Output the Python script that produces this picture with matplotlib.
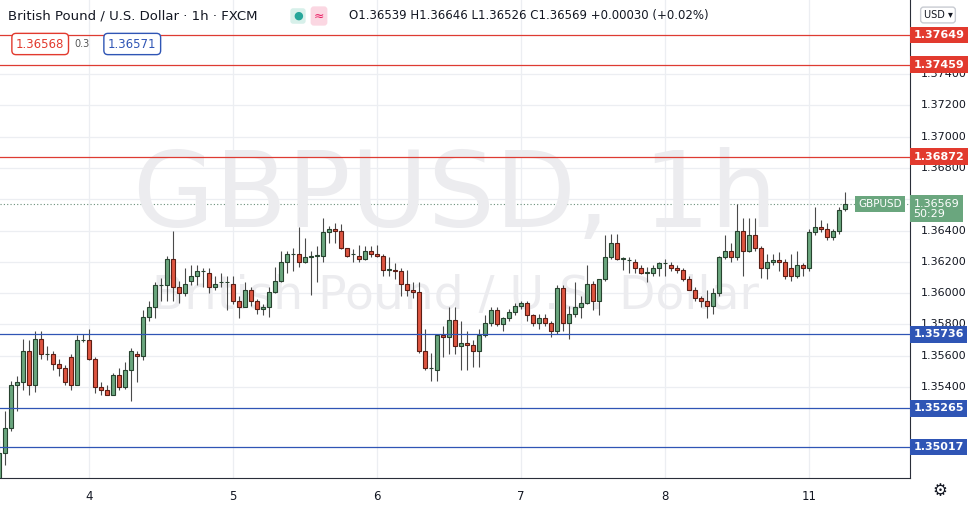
import matplotlib.pyplot as plt
from matplotlib.transforms import blended_transform_factory

opens = [1.3482, 1.3498, 1.3514, 1.3541, 1.3543, 1.3563, 1.3541, 1.3571, 1.3561, 1.3561,
         1.3555, 1.3552, 1.3559, 1.3541, 1.3570, 1.3570, 1.3558, 1.3540, 1.3538, 1.3535,
         1.3548, 1.3540, 1.3551, 1.3561, 1.3560, 1.3585, 1.3591, 1.3605, 1.3605, 1.3622,
         1.3604, 1.3600, 1.3608, 1.3611, 1.3614, 1.3613, 1.3604, 1.3607, 1.3607, 1.3606,
         1.3595, 1.3591, 1.3602, 1.3595, 1.3590, 1.3591, 1.3601, 1.3608, 1.3620, 1.3625,
         1.3625, 1.3620, 1.3623, 1.3624, 1.3624, 1.3639, 1.3641, 1.3640, 1.3629, 1.3625,
         1.3624, 1.3622, 1.3627, 1.3625, 1.3624, 1.3615, 1.3615, 1.3614, 1.3606, 1.3602,
         1.3601, 1.3563, 1.3552, 1.3551, 1.3573, 1.3572, 1.3583, 1.3566, 1.3568, 1.3567,
         1.3563, 1.3573, 1.3581, 1.3589, 1.3580, 1.3584, 1.3588, 1.3592, 1.3594, 1.3586,
         1.3581, 1.3584, 1.3581, 1.3576, 1.3603, 1.3581, 1.3587, 1.3591, 1.3594, 1.3606,
         1.3595, 1.3609, 1.3623, 1.3632, 1.3622, 1.3621, 1.3620, 1.3616, 1.3613, 1.3613,
         1.3616, 1.3619, 1.3618, 1.3616, 1.3615, 1.3609, 1.3602, 1.3597, 1.3595, 1.3592,
         1.3600, 1.3623, 1.3627, 1.3623, 1.3640, 1.3627, 1.3637, 1.3629, 1.3616, 1.3620,
         1.3621, 1.3620, 1.3616, 1.3611, 1.3618, 1.3616, 1.3639, 1.3642, 1.3641, 1.3636,
         1.3640, 1.36539]
closes = [1.3498, 1.3514, 1.3541, 1.3543, 1.3563, 1.3541, 1.3571, 1.3561, 1.3561, 1.3555,
          1.3552, 1.3543, 1.3541, 1.3570, 1.3570, 1.3558, 1.3540, 1.3538, 1.3535, 1.3548,
          1.3540, 1.3551, 1.3563, 1.3560, 1.3585, 1.3591, 1.3605, 1.3605, 1.3622, 1.3604,
          1.3600, 1.3606, 1.3611, 1.3614, 1.3614, 1.3604, 1.3606, 1.3607, 1.3607, 1.3595,
          1.3591, 1.3602, 1.3595, 1.3590, 1.3591, 1.3601, 1.3608, 1.3620, 1.3625, 1.3625,
          1.3620, 1.3623, 1.3624, 1.3624, 1.3639, 1.3641, 1.3640, 1.3629, 1.3624, 1.3625,
          1.3622, 1.3627, 1.3625, 1.3624, 1.3615, 1.3615, 1.3614, 1.3606, 1.3602, 1.3601,
          1.3563, 1.3552, 1.3552, 1.3573, 1.3572, 1.3583, 1.3566, 1.3568, 1.3567, 1.3563,
          1.3573, 1.3581, 1.3589, 1.3580, 1.3584, 1.3588, 1.3592, 1.3594, 1.3586, 1.3581,
          1.3584, 1.3581, 1.3576, 1.3603, 1.3581, 1.3587, 1.3591, 1.3594, 1.3606, 1.3595,
          1.3609, 1.3623, 1.3632, 1.3622, 1.3622, 1.3621, 1.3616, 1.3613, 1.3613, 1.3616,
          1.3619, 1.3619, 1.3616, 1.3615, 1.3609, 1.3602, 1.3597, 1.3595, 1.3592, 1.3600,
          1.3623, 1.3627, 1.3623, 1.3640, 1.3627, 1.3637, 1.3629, 1.3616, 1.3620, 1.3621,
          1.3620, 1.3611, 1.3611, 1.3618, 1.3616, 1.3639, 1.3642, 1.3641, 1.3636, 1.3640,
          1.3653, 1.36569]
highs = [1.3506, 1.3525, 1.3544, 1.3547, 1.3571, 1.3570, 1.3576, 1.3576, 1.3566, 1.3563,
         1.3558, 1.3554, 1.3561, 1.3573, 1.3574, 1.3577, 1.3559, 1.3543, 1.3541, 1.3549,
         1.3552, 1.3556, 1.3565, 1.3563, 1.3589, 1.3595, 1.3607, 1.3610, 1.3624, 1.3640,
         1.3608, 1.3616, 1.3618, 1.3618, 1.3616, 1.3616, 1.3611, 1.3613, 1.3611, 1.3611,
         1.3598, 1.3607, 1.3604, 1.3596, 1.3593, 1.3604, 1.3617, 1.3627, 1.3627, 1.3629,
         1.3642, 1.3635, 1.3627, 1.3630, 1.3648, 1.3643, 1.3645, 1.3644, 1.3629, 1.3628,
         1.3631, 1.3630, 1.3630, 1.3631, 1.3625, 1.3623, 1.3619, 1.3616, 1.3615, 1.3607,
         1.3607, 1.3577, 1.3562, 1.3574, 1.3579, 1.3591, 1.3591, 1.3582, 1.3576, 1.3570,
         1.3577, 1.3586, 1.3591, 1.3591, 1.3585, 1.3590, 1.3594, 1.3595, 1.3595, 1.3587,
         1.3587, 1.3587, 1.3582, 1.3605, 1.3605, 1.3592, 1.3607, 1.3598, 1.3618, 1.3608,
         1.3609, 1.3637, 1.3638, 1.3638, 1.3623, 1.3623, 1.3622, 1.3618, 1.3617, 1.3618,
         1.3620, 1.3622, 1.3620, 1.3618, 1.3616, 1.3611, 1.3604, 1.3598, 1.3602, 1.3603,
         1.3624, 1.3637, 1.3632, 1.3657, 1.3648, 1.3648, 1.3648, 1.3630, 1.3625, 1.3625,
         1.3626, 1.3622, 1.3625, 1.3627, 1.3619, 1.3641, 1.3655, 1.3647, 1.3645, 1.3641,
         1.3655, 1.36646]
lows = [1.3480, 1.3490, 1.3512, 1.3525, 1.3538, 1.3535, 1.3537, 1.3558, 1.3557, 1.3551,
        1.3547, 1.3541, 1.3538, 1.3541, 1.3569, 1.3557, 1.3536, 1.3535, 1.3535, 1.3535,
        1.3538, 1.3539, 1.3531, 1.3543, 1.3557, 1.3582, 1.3584, 1.3595, 1.3595, 1.3595,
        1.3594, 1.3598, 1.3605, 1.3605, 1.3604, 1.3600, 1.3602, 1.3604, 1.3589, 1.3593,
        1.3584, 1.3591, 1.3592, 1.3587, 1.3586, 1.3585, 1.3600, 1.3607, 1.3613, 1.3614,
        1.3617, 1.3619, 1.3599, 1.3607, 1.3620, 1.3632, 1.3632, 1.3628, 1.3623, 1.3620,
        1.3620, 1.3621, 1.3623, 1.3623, 1.3611, 1.3611, 1.3609, 1.3598, 1.3598, 1.3597,
        1.3562, 1.3551, 1.3544, 1.3544, 1.3559, 1.3561, 1.3561, 1.3551, 1.3551, 1.3553,
        1.3553, 1.3572, 1.3579, 1.3579, 1.3576, 1.3582, 1.3586, 1.3590, 1.3582, 1.3579,
        1.3577, 1.3579, 1.3572, 1.3574, 1.3576, 1.3571, 1.3585, 1.3584, 1.3593, 1.3589,
        1.3586, 1.3608, 1.3622, 1.3621, 1.3615, 1.3613, 1.3613, 1.3612, 1.3607, 1.3611,
        1.3611, 1.3611, 1.3614, 1.3613, 1.3608, 1.3602, 1.3595, 1.3591, 1.3584, 1.3587,
        1.3598, 1.3622, 1.3620, 1.3621, 1.3611, 1.3626, 1.3627, 1.3610, 1.3609, 1.3618,
        1.3614, 1.3609, 1.3608, 1.3610, 1.3611, 1.3614, 1.3637, 1.3639, 1.3634, 1.3634,
        1.3638, 1.36526]

day_labels = ['4', '5', '6', '7', '8', '11']
day_index = [15, 39, 63, 87, 111, 135]
price_ticks = [1.354, 1.356, 1.358, 1.360, 1.362, 1.364, 1.366, 1.368, 1.370, 1.372, 1.374]
resistance = [1.37649, 1.37459, 1.36872]
support = [1.35736, 1.35265, 1.35017]
last_price = 1.36569

W, H = 969, 508
fig = plt.figure(figsize=(W / 100, H / 100), dpi=100)
ax = fig.add_axes([0, 30 / H, 910 / W, 478 / H])
ax.set_xlim(1 / 6, 911 / 6)
ax.set_ylim(1.34819, 1.37873)

up_fill, up_edge = '#6aa67e', '#27432f'
dn_fill, dn_edge = '#de5440', '#5c1e15'
for i in range(len(opens)):
    o, c = opens[i], closes[i]
    up = c >= o
    ax.vlines(i, lows[i], highs[i], color='#4a4a4a', lw=0.8, zorder=2)
    body = max(abs(c - o), 0.00003)
    ax.bar(i, body, bottom=min(o, c), width=0.75,
           color=up_fill if up else dn_fill,
           edgecolor=up_edge if up else dn_edge, lw=0.8, zorder=3)

# grid
for y in price_ticks:
    ax.axhline(y, color='#eceef2', lw=0.9, zorder=0)
for d in day_index:
    ax.axvline(d, color='#eceef2', lw=0.9, zorder=0)

for y in resistance:
    ax.axhline(y, color='#de3b32', lw=0.9, zorder=4)
for y in support:
    ax.axhline(y, color='#2f55b5', lw=0.9, zorder=4)
ax.axhline(last_price, color='#6a8f7a', lw=0.8, ls=(0, (1, 2)), zorder=1)

# watermark
ax.text(0.5, 0.585, 'GBPUSD, 1h', transform=ax.transAxes, ha='center', va='center',
        fontsize=76, color='#ececef', zorder=1)
ax.text(0.5, 0.38, 'British Pound / U.S. Dollar', transform=ax.transAxes, ha='center',
        va='center', fontsize=34, color='#ececef', zorder=1)

ax.set_xticks([])
ax.set_yticks([])
for s in ['top', 'left']:
    ax.spines[s].set_visible(False)
ax.spines['right'].set_color('#2a2e39')
ax.spines['bottom'].set_color('#2a2e39')

# right price scale (1.36600 sits under the live price box)
tr = blended_transform_factory(ax.transAxes, ax.transData)
for y in price_ticks:
    if abs(y - last_price) < 0.0006:
        continue
    ax.text(1.012, y, f'{y:.5f}', transform=tr, va='center', ha='left', fontsize=8,
            color='#131722', clip_on=False)
for y in resistance:
    ax.text(1.004, y, f'{y:.5f}', transform=tr, va='center', ha='left', fontsize=8,
            color='white', fontweight='bold', clip_on=False, zorder=6,
            bbox=dict(boxstyle='square,pad=0.3', fc='#e23a2e', ec='none'))
for y in support:
    ax.text(1.004, y, f'{y:.5f}', transform=tr, va='center', ha='left', fontsize=8,
            color='white', fontweight='bold', clip_on=False, zorder=6,
            bbox=dict(boxstyle='square,pad=0.3', fc='#2f55b5', ec='none'))
ax.text(1.004, last_price + 0.00035, '1.36569\n50:29', transform=tr, va='top', ha='left',
        fontsize=8, color='white', clip_on=False, zorder=6, linespacing=1.0,
        bbox=dict(boxstyle='square,pad=0.3', fc='#6aa67e', ec='none'))
ax.text(0.943, last_price, 'GBPUSD', transform=tr, va='center', ha='left', fontsize=7.5,
        color='white', zorder=6,
        bbox=dict(boxstyle='square,pad=0.3', fc='#6aa67e', ec='none'))

# time axis labels
for lab, d in zip(day_labels, day_index):
    ax.text(d, -0.025, lab, transform=blended_transform_factory(ax.transData, ax.transAxes),
            ha='center', va='top', fontsize=8.5, color='#131722', clip_on=False)
fig.text(940 / W, 1 - 491 / H, '\u2699', ha='center', va='center', fontsize=12, color='#131722')

# header
fig.text(8 / W, 1 - 16 / H, 'British Pound / U.S. Dollar \u00b7 1h \u00b7 FXCM', ha='left',
         va='center', fontsize=9.5, color='#131722')
fig.text(298 / W, 1 - 16 / H, '\u25cf', ha='center', va='center', fontsize=8, color='#26a69a',
         bbox=dict(boxstyle='round,pad=0.25', fc='#d7f0ea', ec='none'))
fig.text(319 / W, 1 - 16 / H, '\u2248', ha='center', va='center', fontsize=9, color='#e91e63',
         bbox=dict(boxstyle='round,pad=0.25', fc='#fbd7e2', ec='none'))
fig.text(349 / W, 1 - 16 / H, 'O1.36539 H1.36646 L1.36526 C1.36569 +0.00030 (+0.02%)',
         ha='left', va='center', fontsize=8.5, color='#131722')
fig.text(16 / W, 1 - 44 / H, '1.36568', ha='left', va='center', fontsize=8.5, color='#e23a2e',
         bbox=dict(boxstyle='round,pad=0.35', fc='white', ec='#e23a2e'))
fig.text(82 / W, 1 - 44 / H, '0.3', ha='center', va='center', fontsize=7, color='#555555')
fig.text(108 / W, 1 - 44 / H, '1.36571', ha='left', va='center', fontsize=8.5, color='#2f55b5',
         bbox=dict(boxstyle='round,pad=0.35', fc='white', ec='#2f55b5'))
fig.text(938 / W, 1 - 15 / H, 'USD \u25be', ha='center', va='center', fontsize=7, color='#131722',
         bbox=dict(boxstyle='round,pad=0.3', fc='white', ec='#c8cbd2'))

fig.savefig('out.png', dpi=100)
